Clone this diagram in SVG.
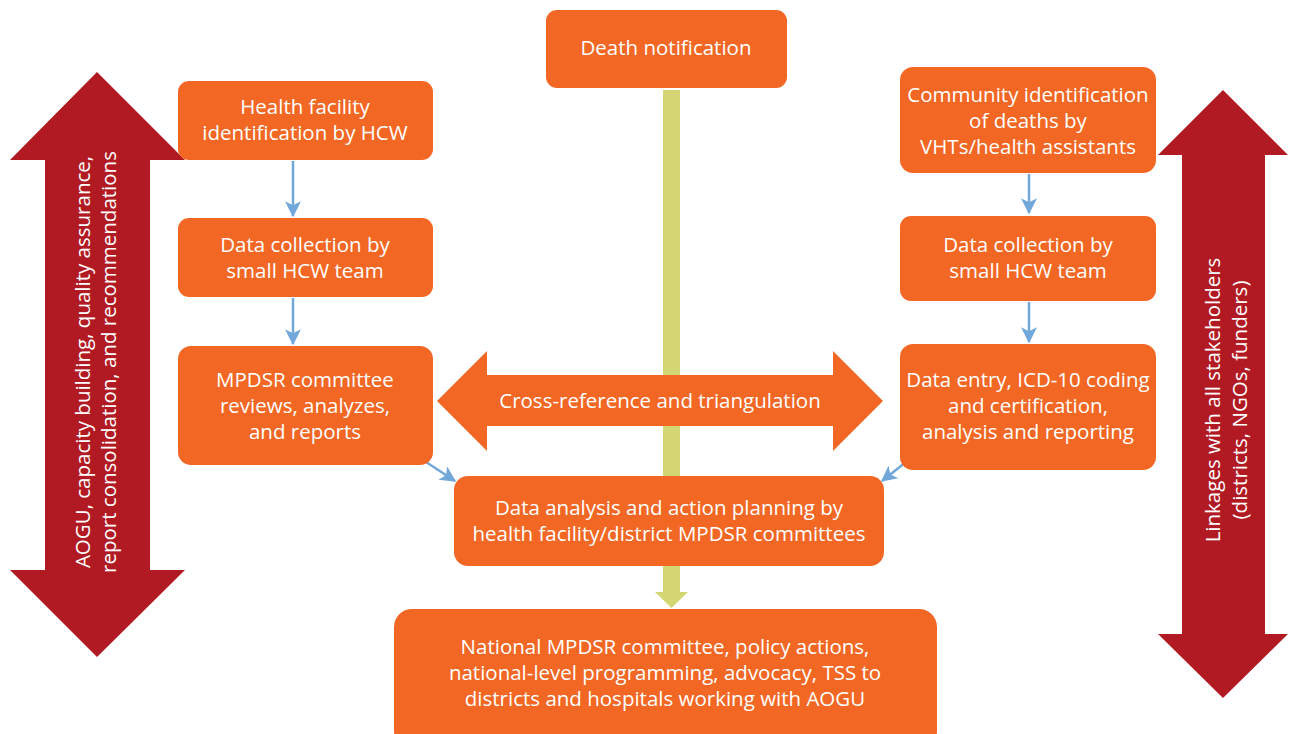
<svg xmlns="http://www.w3.org/2000/svg" width="1293" height="734" viewBox="0 0 1293 734">
<style>
.box{fill:#f26724;}
.t{font-family:"Open Sans","Liberation Sans",sans-serif;font-size:20.5px;fill:#ffffff;text-anchor:middle;}
.red{fill:#b21a23;}
.blue{stroke:#72a7da;stroke-width:2.5;fill:none;}
</style>
<defs>
<marker id="ah2" viewBox="0 0 12 12" refX="11" refY="6" markerWidth="16" markerHeight="16" orient="auto" markerUnits="userSpaceOnUse">
<path d="M0,0 L12,6 L0,12 L3,6 z" fill="#72a7da"/>
</marker>
</defs>
<rect width="1293" height="734" fill="#ffffff"/>

<g id="left-band">
<polygon class="red" points="97,72 185,160 150,160 150,570 185,570 97,657 10,570 45,570 45,160 10,160"/>
<text class="t" transform="translate(90,362) rotate(-90)">AOGU, capacity building, quality assurance,</text>
<text class="t" transform="translate(116,362) rotate(-90)">report consolidation, and recommendations</text>
</g>

<g id="right-band">
<polygon class="red" points="1223,90 1288,155 1265,155 1265,634 1288,634 1223,698 1158,634 1182,634 1182,155 1158,155"/>
<text class="t" transform="translate(1220,400) rotate(-90)">Linkages with all stakeholders</text>
<text class="t" transform="translate(1247,400) rotate(-90)">(districts, NGOs, funders)</text>
</g>

<g id="green-flow">
<polygon fill="#d3d672" points="663,90 680,90 680,592 688,592 671.5,608 655,592 663,592"/>
</g>

<g id="connectors">
<line class="blue" x1="293" y1="161" x2="293" y2="216" marker-end="url(#ah2)"/>
<line class="blue" x1="293" y1="298" x2="293" y2="344" marker-end="url(#ah2)"/>
<line class="blue" x1="1029" y1="174" x2="1029" y2="213" marker-end="url(#ah2)"/>
<line class="blue" x1="1029" y1="302" x2="1029" y2="342" marker-end="url(#ah2)"/>
<line class="blue" x1="426" y1="462" x2="455" y2="481" marker-end="url(#ah2)"/>
<line class="blue" x1="906" y1="462" x2="882" y2="481" marker-end="url(#ah2)"/>
</g>

<g id="death-notification">
<rect class="box" x="546" y="10" width="241" height="78" rx="11"/>
<text class="t" x="666" y="55">Death notification</text>
</g>

<g id="health-facility-identification">
<rect class="box" x="178" y="81" width="255" height="79" rx="11"/>
<text class="t" x="305" y="114">Health facility</text>
<text class="t" x="305" y="140">identification by HCW</text>
</g>

<g id="data-collection-left">
<rect class="box" x="178" y="218" width="255" height="79" rx="11"/>
<text class="t" x="305" y="252">Data collection by</text>
<text class="t" x="305" y="278">small HCW team</text>
</g>

<g id="mpdsr-committee">
<rect class="box" x="178" y="346" width="255" height="119" rx="13"/>
<text class="t" x="305" y="387">MPDSR committee</text>
<text class="t" x="305" y="413">reviews, analyzes,</text>
<text class="t" x="305" y="439">and reports</text>
</g>

<g id="community-identification">
<rect class="box" x="900" y="67" width="256" height="106" rx="13"/>
<text class="t" x="1028" y="102">Community identification</text>
<text class="t" x="1028" y="128">of deaths by</text>
<text class="t" x="1028" y="154">VHTs/health assistants</text>
</g>

<g id="data-collection-right">
<rect class="box" x="900" y="216" width="256" height="85" rx="11"/>
<text class="t" x="1028" y="252">Data collection by</text>
<text class="t" x="1028" y="278">small HCW team</text>
</g>

<g id="data-entry">
<rect class="box" x="900" y="344" width="256" height="126" rx="13"/>
<text class="t" x="1028" y="387">Data entry, ICD-10 coding</text>
<text class="t" x="1028" y="413">and certification,</text>
<text class="t" x="1028" y="439">analysis and reporting</text>
</g>

<g id="cross-reference">
<polygon class="box" points="437,401 487,351 487,375 833,375 833,351 883,401 833,451 833,426 487,426 487,451"/>
<text class="t" x="660" y="408">Cross-reference and triangulation</text>
</g>

<g id="data-analysis">
<rect class="box" x="454" y="476" width="430" height="90" rx="14"/>
<text class="t" x="669" y="515">Data analysis and action planning by</text>
<text class="t" x="669" y="541">health facility/district MPDSR committees</text>
</g>

<g id="national-committee">
<rect class="box" x="394" y="609" width="543" height="140" rx="18"/>
<text class="t" x="665" y="654">National MPDSR committee, policy actions,</text>
<text class="t" x="665" y="680">national-level programming, advocacy, TSS to</text>
<text class="t" x="665" y="706">districts and hospitals working with AOGU</text>
</g>
</svg>
